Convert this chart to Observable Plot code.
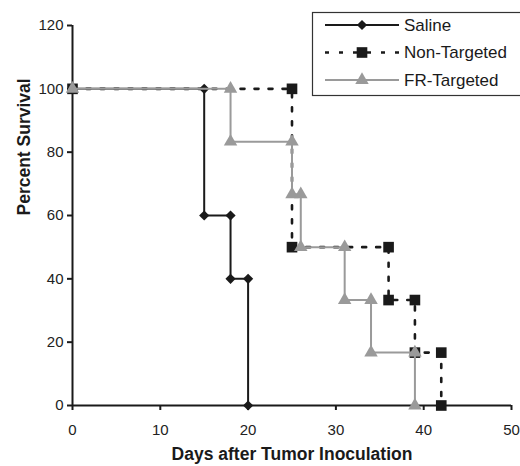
<!DOCTYPE html>
<html>
<head>
<meta charset="utf-8">
<script src="https://cdn.jsdelivr.net/npm/d3@7"></script>
<script src="https://cdn.jsdelivr.net/npm/@observablehq/plot@0.6"></script>
<style>
  html, body { margin: 0; padding: 0; background: #fff; }
  svg { display: block; }
</style>
</head>
<body>
<div id="chart"></div>
<script>
// Series names
const seriesNames = ["Saline", "Non-Targeted", "FR-Targeted"];

// Saline (step corners)
const salineDays     = [0, 15, 15, 18, 18, 20, 20];
const salineSurvival = [100, 100, 60, 60, 40, 40, 0];

// Non-Targeted
const nonTargetedDays     = [0, 25, 25, 36, 36, 39, 39, 42, 42];
const nonTargetedSurvival = [100, 100, 50, 50, 33.3, 33.3, 16.7, 16.7, 0];

// FR-Targeted
const frTargetedDays     = [0, 18, 18, 25, 25, 26, 26, 31, 31, 34, 34, 39, 39];
const frTargetedSurvival = [100, 100, 83.3, 83.3, 66.7, 66.7, 50, 50, 33.3, 33.3, 16.7, 16.7, 0];

// Tick labels
const xTicks = [0, 10, 20, 30, 40, 50];
const yTicks = [0, 20, 40, 60, 80, 100, 120];

const toRows = (days, surv, name) => days.map((d, i) => ({day: d, survival: surv[i], series: name}));
const saline = toRows(salineDays, salineSurvival, seriesNames[0]);
const nonTargeted = toRows(nonTargetedDays, nonTargetedSurvival, seriesNames[1]);
const frTargeted = toRows(frTargetedDays, frTargetedSurvival, seriesNames[2]);

const GRAY = "#9a9a9a";
const BLACK = "#1a1a1a";
const FONT = "'Liberation Sans', Arial, Helvetica, sans-serif";
const DASH = "4,10";

const plot = Plot.plot({
  width: 520,
  height: 466,
  marginLeft: 72,
  marginRight: 9,
  marginTop: 25,
  marginBottom: 61,
  style: {fontFamily: FONT, fontSize: "15px", color: "#222", background: "#fff"},
  x: {domain: [0, 50]},
  y: {domain: [0, 120]},
  marks: [
    Plot.axisY({ticks: yTicks, tickSize: 5, tickPadding: 4, label: null, fontSize: 15, stroke: BLACK, strokeWidth: 2}),
    Plot.axisX({ticks: xTicks, tickSize: 5, tickPadding: 14, label: null, fontSize: 15, stroke: BLACK, strokeWidth: 2}),
    Plot.ruleX([0], {y1: 0, y2: 120, stroke: BLACK, strokeWidth: 2}),
    Plot.ruleY([0], {x1: 0, x2: 50, stroke: BLACK, strokeWidth: 2}),
    // Saline
    Plot.line(saline, {x: "day", y: "survival", stroke: BLACK, strokeWidth: 2}),
    Plot.dot(saline, {x: "day", y: "survival", symbol: "diamond2", r: 4.6, fill: BLACK, stroke: "none"}),
    // Non-Targeted
    Plot.line(nonTargeted, {x: "day", y: "survival", stroke: BLACK, strokeWidth: 2.6, strokeDasharray: DASH}),
    Plot.dot(nonTargeted, {x: "day", y: "survival", symbol: "square", r: 6, fill: BLACK, stroke: "none"}),
    // FR-Targeted
    Plot.line(frTargeted, {x: "day", y: "survival", stroke: GRAY, strokeWidth: 2}),
    Plot.dot(frTargeted, {x: "day", y: "survival", symbol: "triangle", r: 5, fill: GRAY, stroke: "none"}),
    // Axis titles
    Plot.text(["Days after Tumor Inoculation"], {frameAnchor: "bottom", dy: 54, fontWeight: "bold", fontSize: 17.5, fill: BLACK}),
    Plot.text(["Percent Survival"], {frameAnchor: "left", dx: -48, rotate: -90, fontWeight: "bold", fontSize: 17.5, fill: BLACK})
  ]
});

document.getElementById("chart").appendChild(plot);

// Legend (drawn inside the SVG)
const svg = d3.select(plot);
const lg = svg.append("g").attr("font-family", FONT).attr("font-size", 17).attr("text-anchor", "start");
lg.append("rect").attr("x", 312.5).attr("y", 12.5).attr("width", 220).attr("height", 83)
  .attr("fill", "#fff").attr("stroke", "#333").attr("stroke-width", 1.2);
const legendItems = [
  {name: seriesNames[0], stroke: BLACK, dash: null, sym: d3.symbolDiamond2, size: Math.PI * 4.6 * 4.6, fill: BLACK, w: 2},
  {name: seriesNames[1], stroke: BLACK, dash: DASH, sym: d3.symbolSquare, size: Math.PI * 36, fill: BLACK, w: 2.6},
  {name: seriesNames[2], stroke: GRAY, dash: null, sym: d3.symbolTriangle, size: Math.PI * 25, fill: GRAY, w: 2}
];
const rowsY = [25, 52.5, 80];
legendItems.forEach((it, i) => {
  const y = rowsY[i];
  const ln = lg.append("line").attr("x1", 325).attr("x2", 399).attr("y1", y).attr("y2", y)
    .attr("stroke", it.stroke).attr("stroke-width", it.w);
  if (it.dash) ln.attr("stroke-dasharray", it.dash);
  lg.append("path").attr("d", d3.symbol(it.sym, it.size)()).attr("transform", `translate(362,${y})`).attr("fill", it.fill);
  lg.append("text").attr("x", 404).attr("y", y).attr("dy", "0.35em").attr("text-anchor", "start").attr("fill", BLACK).text(it.name);
});
</script>
</body>
</html>
